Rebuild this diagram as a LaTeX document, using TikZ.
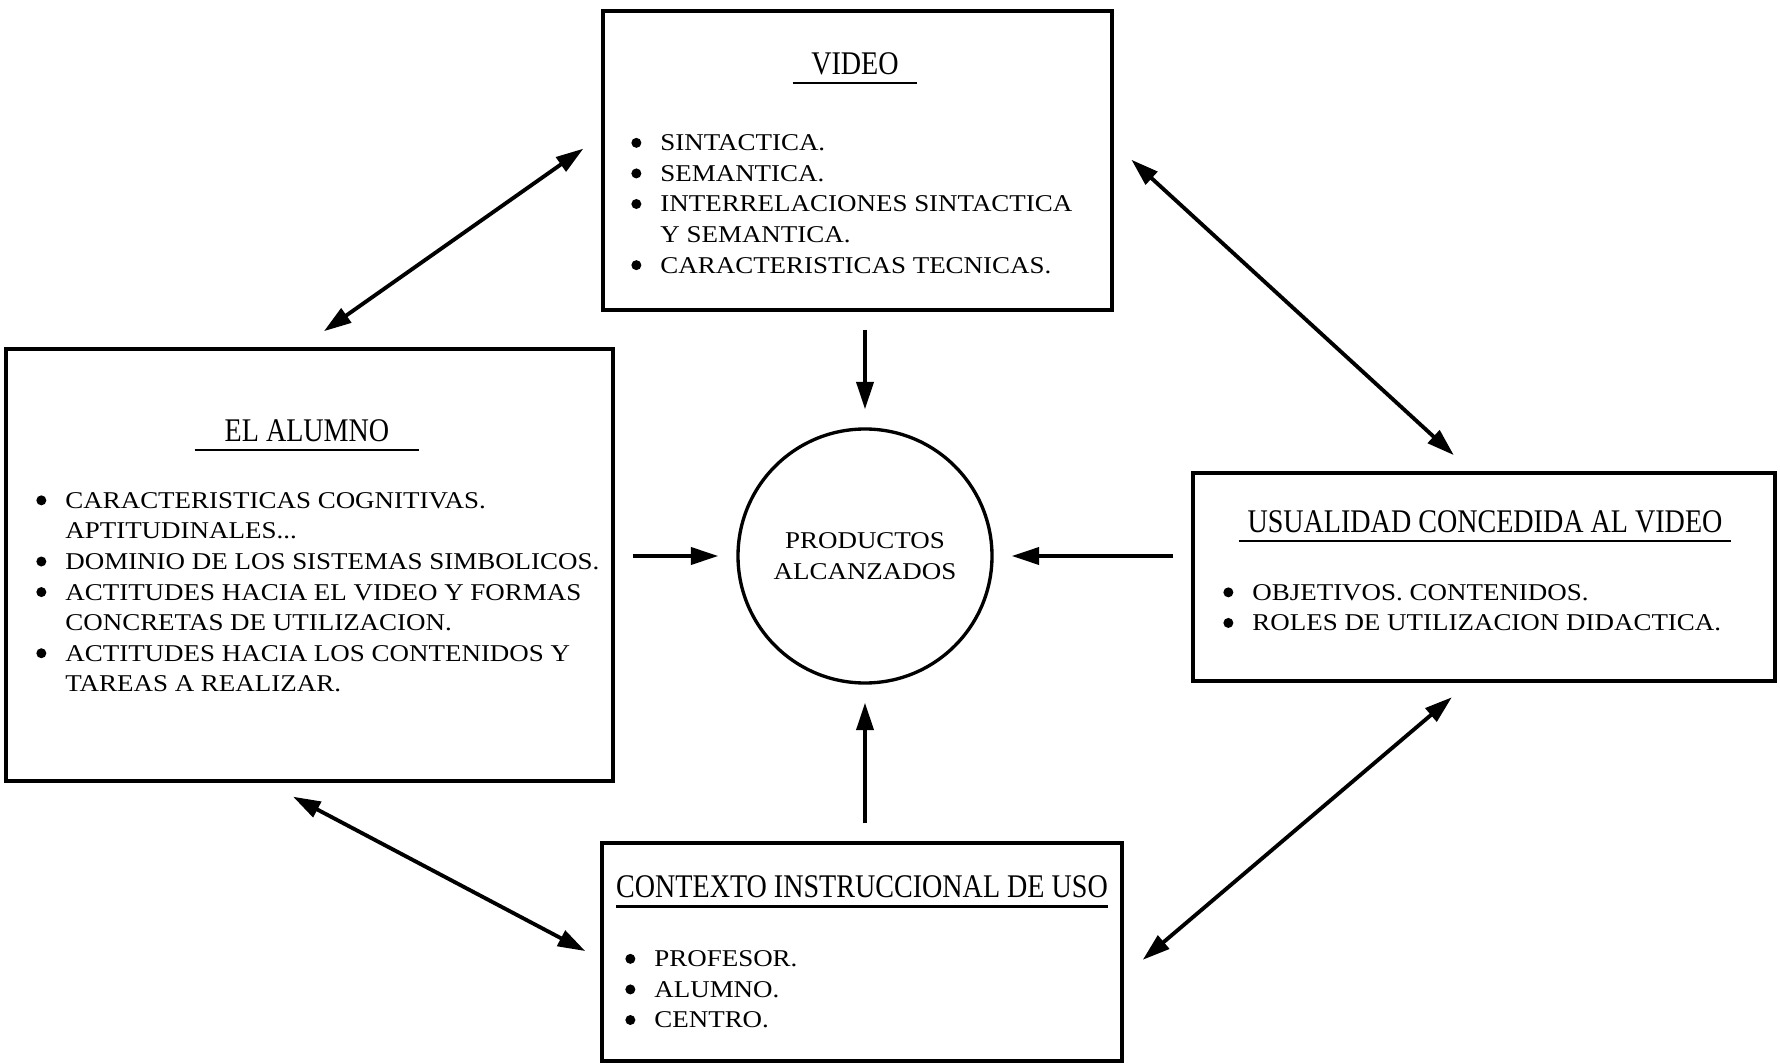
\documentclass[tikz,border=0pt]{standalone}
\usepackage{fontspec}
\setmainfont{Liberation Serif}[FakeStretch=1.12]
\newfontfamily\headfont{Liberation Serif}[FakeStretch=0.85]
\usepackage{tikz}
\usetikzlibrary{arrows.meta, positioning, calc}
\newcommand{\bulletmark}{\makebox[0.58cm][l]{\tikz[baseline=-0.33em]\fill (0.1cm,0) circle (0.1cm);}}
\newcommand{\bulletgap}{\hspace*{0.58cm}}

\begin{document}
\begin{tikzpicture}[
  every node/.style={font=\fontsize{13.7}{17.4}\selectfont},
  panel/.style={rectangle, draw, line width=1.9pt},
  headline/.style={anchor=south, inner xsep=0pt, inner ysep=4.5pt, font=\headfont\fontsize{18.8}{22}\selectfont},
  itemlist/.style={anchor=north west, inner sep=0pt, align=left},
  flow/.style={line width=2.2pt, -{Triangle[length=0.55cm, width=0.34cm]}, shorten <=0.36cm, shorten >=0.36cm},
  biflow/.style={line width=2.2pt, {Triangle[length=0.55cm, width=0.34cm]}-{Triangle[length=0.55cm, width=0.34cm]}},
]
\useasboundingbox (0,0) rectangle (35.6,21.26);

% Boxes
\node[panel, minimum width=10.18cm, minimum height=5.98cm] (video) at (17.15, 18.05) {};
\node[panel, minimum width=12.14cm, minimum height=8.64cm] (alumno) at (6.19, 9.96) {};
\node[panel, minimum width=11.64cm, minimum height=4.16cm] (usual) at (29.68, 9.72) {};
\node[panel, minimum width=10.4cm, minimum height=4.36cm] (ctx) at (17.24, 2.22) {};
\node[circle, draw, line width=1.9pt, minimum size=5.08cm, inner sep=0pt, align=center] (prod) at (17.3, 10.14) {PRODUCTOS\\ALCANZADOS};

% Titles
\node[headline, minimum width=2.48cm] (vhead) at (17.1, 19.6) {VIDEO};
\node[headline, minimum width=4.48cm] (ahead) at (6.14, 12.26) {EL ALUMNO};
\node[headline, minimum width=9.82cm] (uhead) at (29.7, 10.44) {USUALIDAD CONCEDIDA AL VIDEO};
\node[headline, minimum width=9.58cm] (chead) at (17.24, 3.14) {CONTEXTO INSTRUCCIONAL DE USO};
\foreach \h in {vhead, ahead, uhead, chead}
  \draw[line width=1.7pt] (\h.south west) -- (\h.south east);

% Lists
\node[itemlist] (vlist) at (12.62, 18.57) {\bulletmark SINTACTICA.\\ \bulletmark SEMANTICA.\\ \bulletmark INTERRELACIONES SINTACTICA\\ \bulletgap Y SEMANTICA.\\ \bulletmark CARACTERISTICAS TECNICAS.};
\node[itemlist] (alist) at (0.72, 11.42) {\bulletmark CARACTERISTICAS COGNITIVAS.\\ \bulletgap APTITUDINALES...\\ \bulletmark DOMINIO DE LOS SISTEMAS SIMBOLICOS.\\ \bulletmark ACTITUDES HACIA EL VIDEO Y FORMAS\\ \bulletgap CONCRETAS DE UTILIZACION.\\ \bulletmark ACTITUDES HACIA LOS CONTENIDOS Y\\ \bulletgap TAREAS A REALIZAR.};
\node[itemlist] (ulist) at (24.46, 9.58) {\bulletmark OBJETIVOS. CONTENIDOS.\\ \bulletmark ROLES DE UTILIZACION DIDACTICA.};
\node[itemlist] (clist) at (12.5, 2.25) {\bulletmark PROFESOR.\\ \bulletmark ALUMNO.\\ \bulletmark CENTRO.};

% Arrows into the circle
\draw[flow] (video.south -| prod.north) -- (prod.north);
\draw[flow] (alumno.east |- prod.west) -- (prod.west);
\draw[flow] (usual.west |- prod.east) -- (prod.east);
\draw[flow] (ctx.north -| prod.south) -- (prod.south);

% Two-way arrows between boxes
\draw[biflow, shorten <=0.44cm, shorten >=0.56cm] ([yshift=0.49cm]video.west) -- ([xshift=-0.17cm]alumno.north);
\draw[biflow, shorten <=0.48cm, shorten >=0.48cm] ([yshift=0.34cm]video.east) -- ([xshift=-0.25cm]usual.north);
\draw[biflow, shorten <=0.6cm, shorten >=0.34cm] ([xshift=-0.86cm]alumno.south) -- ([yshift=-0.14cm]ctx.west);
\draw[biflow, shorten <=0.45cm, shorten >=0.5cm] ([xshift=-0.3cm]usual.south) -- ([yshift=-0.48cm]ctx.east);

\end{tikzpicture}
\end{document}
